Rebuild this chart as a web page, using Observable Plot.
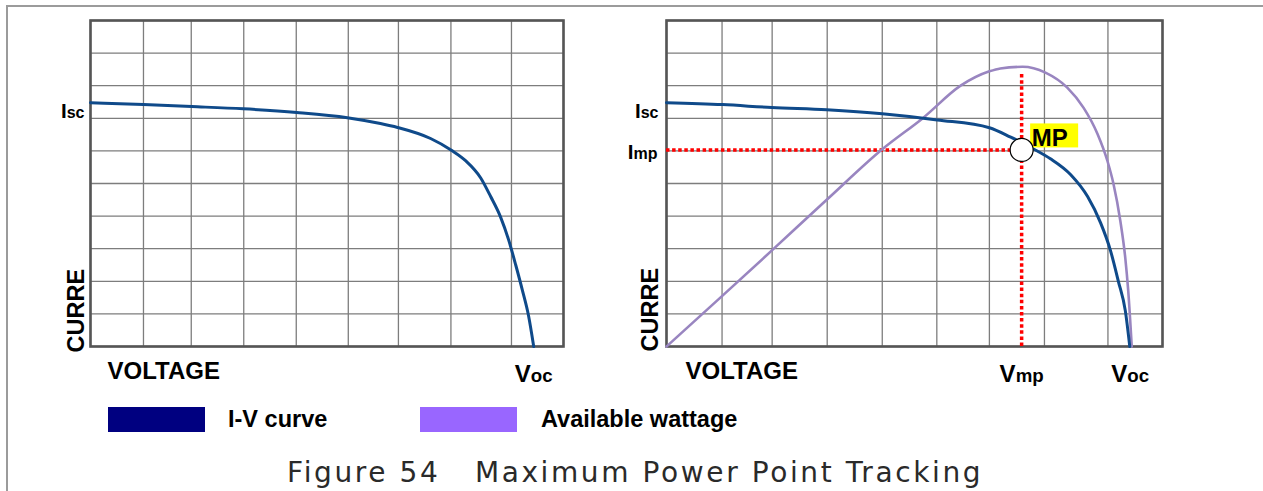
<!DOCTYPE html>
<html><head><meta charset="utf-8">
<script src="https://cdn.jsdelivr.net/npm/d3@7"></script>
<script src="https://cdn.jsdelivr.net/npm/@observablehq/plot@0.6"></script>
<style>
html,body{margin:0;padding:0;background:#fff;overflow:hidden}
#wrap{position:relative;width:1263px;height:491px;overflow:hidden;font-family:"Liberation Sans",Arial,sans-serif}
#border{position:absolute;left:6px;top:5px;width:1400px;height:600px;border-left:2px solid #9b9b9b;border-top:2px solid #9b9b9b}
.panel{position:absolute;top:0}
.swatch{position:absolute;top:407px;width:97px;height:25px}
.ltext{position:absolute;top:405px;font-weight:bold;font-size:23.5px;line-height:28px;color:#000;white-space:nowrap}
#caption{position:absolute;left:287px;top:456px;font-family:"DejaVu Sans",sans-serif;font-size:28px;letter-spacing:2.6px;white-space:pre;color:#2a2a2a;line-height:34px}
</style></head><body>
<div id="wrap">
  <div id="border"></div>
  <div id="left" class="panel" style="left:0"></div>
  <div id="right" class="panel" style="left:600px"></div>
  <div id="legend"></div>
  <div id="caption"></div>
</div>
<script>
// ---- data (voltage in % of plot width, current / power in grid units) ----
const gridV = [0, 11.2, 21.3, 32.4, 43.5, 54.5, 65.1, 76.2, 89, 100];
const gridI = [0, 1, 2, 3, 4, 5, 6, 7, 8, 9, 10];

const leftV = [0, 11.2, 21.4, 32.3, 43.6, 54.3, 61.3, 64.9, 71.9, 76.3, 79.3, 82.5, 84.6, 86.7, 88.4, 89.9, 91.3, 92.6, 93.7];
const leftI = [7.48, 7.42, 7.36, 7.29, 7.18, 7.02, 6.84, 6.72, 6.38, 6.02, 5.70, 5.17, 4.60, 3.97, 3.27, 2.50, 1.73, 0.95, 0];

const rightV = [0, 11.3, 21.2, 32.3, 43.5, 54.6, 65.1, 69.4, 74.0, 77.4, 81.5, 84.9, 87.5, 89.5, 91.1, 92.5, 93.4];
const rightI = [7.48, 7.42, 7.33, 7.26, 7.14, 6.95, 6.71, 6.42, 6.06, 5.76, 5.27, 4.60, 3.80, 2.95, 2.00, 1.10, 0];

const powerV = [0, 11.3, 21.2, 32.3, 43.5, 51.8, 59.3, 65.1, 67.3, 71.8, 76.4, 80.8, 84.1, 86.9, 88.9, 90.1, 91.5, 92.5, 93.1, 93.8];
const powerP = [0, 1.56, 2.94, 4.50, 6.05, 7.02, 8.0, 8.44, 8.53, 8.58, 8.40, 7.94, 7.32, 6.52, 5.69, 5.00, 3.85, 2.71, 1.69, 0];

const Isc = 7.48, Imp = 6.03, Vmp = 71.6, PmpTop = 8.4;
const VocLeft = 93.7, VocRight = 93.5;

const axisTitleX = "VOLTAGE", axisTitleY = "CURRE";
const legendLabels = ["I-V curve", "Available wattage"];
const legendColors = ["#000080", "#9966ff"];
const captionText = "Figure 54   Maximum Power Point Tracking";

const ivColor = "#0f4a8a", pwColor = "#9985c0", gridColor = "#7d7d7d", frameColor = "#555555";
const font = "Liberation Sans, Arial, sans-serif";

// ---- helpers ----
const zip = (xs, ys, k) => xs.map((v, i) => ({v, [k]: ys[i]}));
const bold = {fontWeight: "bold", fill: "#000"};

// "I_sc" -> I with smaller "sc" on the same baseline
function subscripts(svg) {
  d3.select(svg).selectAll("text").each(function () {
    const t = this.textContent;
    if (!t.includes("_")) return;
    const [a, b] = t.split("_");
    const fs = parseFloat(getComputedStyle(this).fontSize) || 20;
    this.textContent = "";
    d3.select(this).append("tspan").text(a);
    d3.select(this).append("tspan").attr("font-size", (fs * 0.78).toFixed(1)).text(b);
  });
}

function base(marks) {
  return [
    Plot.ruleX(gridV, {stroke: gridColor, strokeWidth: 1.3}),
    Plot.ruleY(gridI, {stroke: gridColor, strokeWidth: 1.3}),
    Plot.frame({stroke: frameColor, strokeWidth: 2.6}),
    ...marks
  ];
}

// ---- left panel ----
const leftPlot = Plot.plot({
  width: 600, height: 395,
  marginTop: 20, marginLeft: 90, marginRight: 37, marginBottom: 49,
  x: {domain: [0, 100], axis: null},
  y: {domain: [0, 10], axis: null},
  style: {fontFamily: font, overflow: "visible", background: "transparent"},
  marks: base([
    Plot.line(zip(leftV, leftI, "i"), {x: "v", y: "i", stroke: ivColor, strokeWidth: 3, curve: "monotone-x"}),
    Plot.text([{v: 0, i: Isc, t: "I_sc"}], {x: "v", y: "i", text: "t", textAnchor: "end", lineAnchor: "bottom", dx: -6, dy: 15, fontSize: 20.5, ...bold}),
    Plot.text([axisTitleY], {text: d => d, frameAnchor: "bottom-left", rotate: -90, textAnchor: "start", lineAnchor: "bottom", dx: -7, dy: 6, fontSize: 23.5, ...bold}),
    Plot.text([axisTitleX], {text: d => d, frameAnchor: "bottom-left", textAnchor: "start", lineAnchor: "bottom", dx: 17, dy: 32, fontSize: 24, ...bold}),
    Plot.text([{v: VocLeft, t: "V_oc"}], {x: "v", text: "t", frameAnchor: "bottom", textAnchor: "middle", lineAnchor: "bottom", dy: 35, fontSize: 24, ...bold})
  ])
});
document.getElementById("left").append(leftPlot);
subscripts(leftPlot);

// ---- right panel ----
const mp = [{v0: 0, v: Vmp, i0: 0, i: Imp, top: PmpTop}];
const rightPlot = Plot.plot({
  width: 663, height: 395,
  marginTop: 20, marginLeft: 66, marginRight: 101, marginBottom: 49,
  x: {domain: [0, 100], axis: null},
  y: {domain: [0, 10], axis: null},
  style: {fontFamily: font, overflow: "visible", background: "transparent"},
  marks: base([
    Plot.ruleY(mp, {y: "i", x1: "v0", x2: "v", stroke: "#ff0000", strokeWidth: 3.5, strokeDasharray: "3.5,2.6"}),
    Plot.ruleX(mp, {x: "v", y1: "i0", y2: "top", stroke: "#ff0000", strokeWidth: 3.5, strokeDasharray: "3.5,2.6"}),
    Plot.line(zip(powerV, powerP, "p"), {x: "v", y: "p", stroke: pwColor, strokeWidth: 2.6, curve: "monotone-x"}),
    Plot.line(zip(rightV, rightI, "i"), {x: "v", y: "i", stroke: ivColor, strokeWidth: 3, curve: "monotone-x"}),
    Plot.rect(mp, {x1: "v", x2: "v", y1: "i", y2: "i", insetLeft: 9, insetRight: -57, insetTop: -26, insetBottom: 2, fill: "#ffff00"}),
    Plot.text(mp, {x: "v", y: "i", text: () => "MP", textAnchor: "start", lineAnchor: "bottom", dx: 10, dy: -4, fontSize: 24, ...bold}),
    Plot.dot(mp, {x: "v", y: "i", r: 11.5, fill: "#fff", stroke: "#000", strokeWidth: 1.2}),
    Plot.text([{v: 0, i: Isc, t: "I_sc"}], {x: "v", y: "i", text: "t", textAnchor: "end", lineAnchor: "bottom", dx: -8, dy: 15, fontSize: 20.5, ...bold}),
    Plot.text([{v: 0, i: Imp, t: "I_mp"}], {x: "v", y: "i", text: "t", textAnchor: "end", lineAnchor: "bottom", dx: -9, dy: 9, fontSize: 20.5, ...bold}),
    Plot.text([axisTitleY], {text: d => d, frameAnchor: "bottom-left", rotate: -90, textAnchor: "start", lineAnchor: "bottom", dx: -9, dy: 5, fontSize: 23.5, ...bold}),
    Plot.text([axisTitleX], {text: d => d, frameAnchor: "bottom-left", textAnchor: "start", lineAnchor: "bottom", dx: 19, dy: 32, fontSize: 24, ...bold}),
    Plot.text([{v: Vmp, t: "V_mp"}, {v: VocRight, t: "V_oc"}], {x: "v", text: "t", frameAnchor: "bottom", textAnchor: "middle", lineAnchor: "bottom", dy: 35, fontSize: 24, ...bold})
  ])
});
document.getElementById("right").append(rightPlot);
subscripts(rightPlot);

// ---- legend ----
const legend = document.getElementById("legend");
const swatchLeft = [108, 420], textLeft = [228, 541];
legendLabels.forEach((lab, k) => {
  const s = document.createElement("div");
  s.className = "swatch"; s.style.left = swatchLeft[k] + "px"; s.style.background = legendColors[k];
  const t = document.createElement("div");
  t.className = "ltext"; t.style.left = textLeft[k] + "px"; t.textContent = lab;
  legend.append(s, t);
});
document.getElementById("caption").textContent = captionText;
</script>
</body></html>
